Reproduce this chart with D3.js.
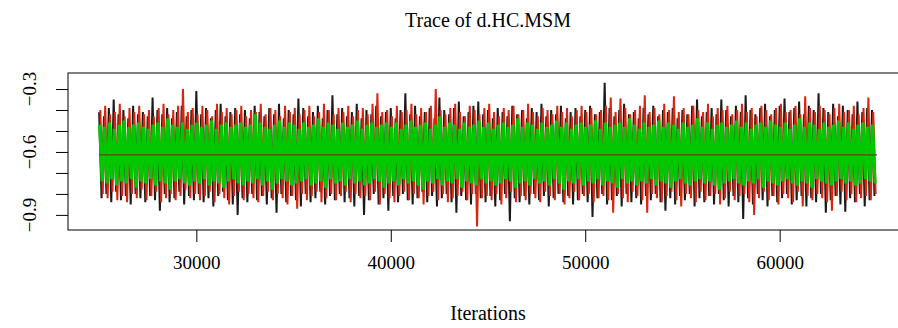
<!DOCTYPE html>
<html>
<head>
<meta charset="utf-8">
<script src="https://cdn.jsdelivr.net/npm/d3@7"></script>
<style>
  body { margin: 0; background: #fff; }
  svg { display: block; }
  text { font-family: "Liberation Serif", "DejaVu Serif", serif; fill: #000; }
</style>
</head>
<body>
<svg id="trace" width="898" height="328"></svg>
<script>
// iterations are grouped in bins of 250; for each bin the highest and lowest value of every chain
const iterStart = 25000;
const binStep = 250;

const blackHi = [-.41,-.43,-.39,-.35,-.42,-.40,-.44,-.38,-.42,-.41,
  -.43,-.34,-.40,-.42,-.39,-.44,-.41,-.38,-.43,-.40,
  -.31,-.42,-.39,-.44,-.40,-.37,-.43,-.41,-.39,-.42,
  -.40,-.44,-.38,-.41,-.43,-.39,-.42,-.37,-.44,-.40,
  -.42,-.345,-.39,-.43,-.41,-.38,-.44,-.40,-.33,-.42,
  -.39,-.43,-.41,-.37,-.44,-.40,-.42,-.38,-.43,-.41,
  -.39,-.44,-.40,-.32,-.42,-.38,-.43,-.41,-.39,-.44,
  -.34,-.40,-.42,-.39,-.36,-.43,-.41,-.38,-.36,-.42,
  -.40,-.44,-.39,-.41,-.43,-.38,-.42,-.40,-.44,-.39,
  -.41,-.37,-.43,-.40,-.42,-.38,-.44,-.41,-.39,-.43,
  -.40,-.38,-.42,-.41,-.27,-.39,-.43,-.40,-.37,-.42,
  -.41,-.44,-.39,-.42,-.38,-.43,-.40,-.41,-.39,-.44,
  -.40,-.42,-.38,-.35,-.43,-.41,-.39,-.42,-.35,-.40,
  -.43,-.38,-.41,-.33,-.40,-.42,-.39,-.37,-.43,-.40,
  -.38,-.345,-.41,-.39,-.36,-.42,-.38,-.40,-.32,-.39,
  -.41,-.37,-.43,-.38,-.40,-.42,-.36,-.41,-.39,-.40];

const blackLo = [-.82,-.80,-.84,-.79,-.83,-.81,-.85,-.80,-.82,-.84,
  -.81,-.83,-.88,-.80,-.84,-.82,-.79,-.85,-.81,-.83,
  -.80,-.84,-.82,-.86,-.81,-.79,-.83,-.85,-.90,-.82,
  -.84,-.80,-.83,-.81,-.85,-.82,-.89,-.80,-.84,-.81,
  -.83,-.86,-.80,-.84,-.82,-.79,-.85,-.81,-.83,-.80,
  -.84,-.82,-.86,-.81,-.90,-.83,-.80,-.85,-.82,-.88,
  -.81,-.84,-.80,-.83,-.85,-.82,-.79,-.84,-.81,-.86,
  -.82,-.80,-.84,-.89,-.81,-.83,-.85,-.80,-.82,-.84,
  -.81,-.86,-.83,-.80,-.93,-.82,-.84,-.81,-.85,-.80,
  -.83,-.81,-.86,-.82,-.80,-.84,-.81,-.85,-.83,-.80,
  -.84,-.91,-.82,-.80,-.85,-.83,-.81,-.86,-.80,-.84,
  -.82,-.85,-.81,-.83,-.80,-.84,-.88,-.82,-.85,-.81,
  -.83,-.80,-.86,-.82,-.84,-.81,-.85,-.80,-.83,-.86,
  -.81,-.84,-.92,-.82,-.85,-.80,-.83,-.86,-.81,-.84,
  -.82,-.80,-.85,-.83,-.81,-.86,-.82,-.84,-.80,-.89,
  -.83,-.81,-.85,-.885,-.82,-.84,-.80,-.86,-.83,-.81];

const redHi = [-.40,-.38,-.42,-.41,-.37,-.43,-.39,-.41,-.38,-.42,
  -.40,-.43,-.39,-.37,-.42,-.40,-.38,-.30,-.41,-.39,
  -.42,-.38,-.40,-.43,-.37,-.41,-.39,-.42,-.40,-.38,
  -.43,-.40,-.41,-.37,-.42,-.39,-.40,-.43,-.38,-.41,
  -.39,-.42,-.40,-.38,-.43,-.41,-.37,-.40,-.42,-.39,
  -.41,-.38,-.43,-.40,-.39,-.42,-.37,-.32,-.41,-.40,
  -.43,-.38,-.41,-.40,-.37,-.42,-.39,-.41,-.38,-.30,
  -.40,-.42,-.39,-.37,-.41,-.43,-.38,-.40,-.42,-.39,
  -.37,-.41,-.43,-.39,-.40,-.38,-.42,-.40,-.37,-.41,
  -.43,-.39,-.40,-.42,-.38,-.41,-.39,-.43,-.40,-.38,
  -.41,-.39,-.42,-.40,-.38,-.34,-.41,-.345,-.39,-.42,
  -.40,-.38,-.33,-.41,-.39,-.42,-.37,-.40,-.335,-.41,
  -.39,-.42,-.38,-.40,-.41,-.37,-.43,-.39,-.40,-.38,
  -.42,-.40,-.37,-.41,-.39,-.43,-.38,-.40,-.42,-.39,
  -.37,-.41,-.40,-.38,-.42,-.335,-.39,-.41,-.38,-.40,
  -.42,-.39,-.37,-.41,-.40,-.38,-.42,-.39,-.34,-.41];

const redLo = [-.80,-.82,-.79,-.83,-.81,-.84,-.80,-.82,-.78,-.83,
  -.81,-.79,-.84,-.82,-.80,-.83,-.81,-.78,-.82,-.80,
  -.83,-.81,-.79,-.84,-.80,-.82,-.85,-.81,-.79,-.83,
  -.80,-.82,-.84,-.81,-.79,-.83,-.80,-.82,-.85,-.81,
  -.87,-.80,-.83,-.81,-.79,-.84,-.82,-.80,-.83,-.81,
  -.79,-.84,-.80,-.82,-.81,-.83,-.79,-.85,-.80,-.82,
  -.84,-.81,-.79,-.83,-.80,-.82,-.85,-.81,-.79,-.83,
  -.80,-.84,-.82,-.81,-.79,-.83,-.80,-.955,-.82,-.81,
  -.83,-.80,-.85,-.82,-.79,-.84,-.81,-.83,-.80,-.82,
  -.84,-.79,-.81,-.83,-.80,-.85,-.82,-.79,-.83,-.81,
  -.80,-.84,-.82,-.81,-.83,-.89,-.80,-.82,-.84,-.79,
  -.81,-.83,-.89,-.80,-.82,-.84,-.81,-.79,-.83,-.86,
  -.80,-.82,-.84,-.79,-.83,-.81,-.80,-.85,-.82,-.79,
  -.83,-.81,-.80,-.84,-.90,-.82,-.79,-.83,-.81,-.85,
  -.80,-.82,-.84,-.79,-.86,-.81,-.83,-.80,-.82,-.84,
  -.88,-.81,-.79,-.83,-.80,-.84,-.82,-.81,-.83,-.80];

const greenHi = [-.47,-.48,-.46,-.49,-.47,-.45,-.48,-.47,-.46,-.48,
  -.49,-.47,-.46,-.48,-.44,-.47,-.48,-.46,-.49,-.47,
  -.46,-.48,-.47,-.45,-.49,-.47,-.46,-.48,-.47,-.46,
  -.48,-.47,-.42,-.46,-.48,-.49,-.47,-.45,-.48,-.46,
  -.47,-.49,-.46,-.48,-.47,-.44,-.48,-.46,-.47,-.49,
  -.46,-.48,-.47,-.45,-.49,-.47,-.46,-.48,-.47,-.46,
  -.48,-.46,-.49,-.47,-.45,-.48,-.47,-.46,-.49,-.47,
  -.43,-.48,-.46,-.47,-.49,-.46,-.48,-.47,-.45,-.48,
  -.46,-.49,-.47,-.46,-.48,-.47,-.44,-.48,-.46,-.47,
  -.49,-.46,-.48,-.47,-.45,-.48,-.46,-.49,-.47,-.46,
  -.48,-.47,-.45,-.49,-.46,-.48,-.47,-.46,-.48,-.44,
  -.47,-.49,-.46,-.48,-.47,-.45,-.48,-.46,-.47,-.49,
  -.46,-.48,-.47,-.44,-.48,-.46,-.49,-.47,-.46,-.48,
  -.47,-.45,-.48,-.46,-.49,-.47,-.46,-.48,-.45,-.47,
  -.48,-.46,-.49,-.47,-.44,-.48,-.46,-.47,-.49,-.46,
  -.48,-.47,-.45,-.48,-.46,-.49,-.47,-.46,-.48,-.47];

const greenLo = [-.74,-.75,-.73,-.76,-.74,-.75,-.73,-.77,-.74,-.75,
  -.73,-.76,-.74,-.75,-.78,-.74,-.73,-.75,-.76,-.74,
  -.75,-.73,-.76,-.74,-.75,-.77,-.74,-.73,-.75,-.76,
  -.74,-.75,-.73,-.76,-.74,-.78,-.75,-.73,-.74,-.76,
  -.75,-.74,-.73,-.76,-.75,-.74,-.77,-.73,-.75,-.74,
  -.76,-.73,-.75,-.74,-.76,-.75,-.73,-.74,-.77,-.75,
  -.74,-.76,-.73,-.75,-.74,-.76,-.78,-.74,-.75,-.73,
  -.76,-.74,-.75,-.73,-.77,-.74,-.75,-.76,-.73,-.75,
  -.74,-.76,-.75,-.73,-.74,-.77,-.75,-.74,-.76,-.73,
  -.75,-.74,-.76,-.73,-.75,-.78,-.74,-.75,-.73,-.76,
  -.74,-.75,-.73,-.76,-.74,-.75,-.77,-.73,-.75,-.74,
  -.76,-.74,-.75,-.73,-.76,-.74,-.75,-.77,-.74,-.73,
  -.75,-.76,-.74,-.73,-.75,-.74,-.76,-.78,-.75,-.74,
  -.73,-.75,-.76,-.74,-.75,-.73,-.77,-.74,-.75,-.76,
  -.74,-.73,-.75,-.76,-.74,-.75,-.77,-.73,-.74,-.75,
  -.76,-.74,-.73,-.75,-.74,-.76,-.75,-.73,-.74,-.75];

const chainMean = -0.614;

const xTicks = [30000, 40000, 50000, 60000];
const yTicks = [-0.9, -0.8, -0.7, -0.6, -0.5, -0.4, -0.3];
const yLabels = [-0.9, -0.6, -0.3];

const svg = d3.select("#trace");
const plot = {left: 68, right: 908, top: 73, bottom: 230};

// R style 4% padding around the data range
let x = d3.scaleLinear().domain([23400, 66600]).range([plot.left, plot.right]);
let y = d3.scaleLinear().domain([-0.972, -0.2236]).range([plot.bottom, plot.top]);

// zigzag through max then min of each bin, like a dense trace line
function tracePoints(hi, lo, shift) {
    let pts = [];
    for (let i = 0; i < hi.length; i++) {
        let it = iterStart + i * binStep + shift * binStep;
        pts.push([it, hi[i]]);
        pts.push([it + binStep / 2, lo[i]]);
    }
    return pts;
}

let line = d3.line().x(d => x(d[0])).y(d => y(d[1]));

const chains = [
    {hi: blackHi, lo: blackLo, color: "#1a1a1a", width: 2.0, shift: 0},
    {hi: redHi, lo: redLo, color: "#d8260f", width: 2.0, shift: 0.25},
    {hi: greenHi, lo: greenLo, color: "#00c800", width: 3.2, shift: 0.12}
];

svg.append("defs").append("clipPath").attr("id", "clip")
    .append("rect")
    .attr("x", plot.left).attr("y", plot.top)
    .attr("width", plot.right - plot.left).attr("height", plot.bottom - plot.top);

let g = svg.append("g").attr("clip-path", "url(#clip)");

g.selectAll("path.chain")
    .data(chains)
    .enter()
    .append("path")
    .attr("class", "chain")
    .attr("d", d => line(tracePoints(d.hi, d.lo, d.shift)))
    .attr("fill", "none")
    .attr("stroke", d => d.color)
    .attr("stroke-width", d => d.width)
    .attr("stroke-linejoin", "bevel");

g.append("line")
    .attr("x1", x(iterStart)).attr("x2", x(iterStart + blackHi.length * binStep))
    .attr("y1", y(chainMean)).attr("y2", y(chainMean))
    .attr("stroke", "#6e3c0e")
    .attr("stroke-width", 1.3);

// frame
svg.append("rect")
    .attr("x", plot.left).attr("y", plot.top)
    .attr("width", plot.right - plot.left).attr("height", plot.bottom - plot.top)
    .attr("fill", "none").attr("stroke", "#000").attr("stroke-width", 1);

let xAxis = d3.axisBottom(x).tickValues(xTicks).tickSize(12).tickPadding(14)
    .tickFormat(d3.format("d"));
let gx = svg.append("g").attr("transform", "translate(0," + plot.bottom + ")").call(xAxis);
gx.select(".domain").remove();
gx.selectAll("text").style("font-family", "Liberation Serif").style("font-size", "19px");

let yAxis = d3.axisLeft(y).tickValues(yTicks).tickSize(12).tickFormat("");
let gy = svg.append("g").attr("transform", "translate(" + plot.left + ",0)").call(yAxis);
gy.select(".domain").remove();

svg.selectAll("text.ylab")
    .data(yLabels)
    .enter()
    .append("text")
    .attr("class", "ylab")
    .attr("transform", d => "translate(36," + y(d) + ") rotate(-90)")
    .attr("text-anchor", "middle")
    .style("font-size", "19px")
    .text(d => d3.format(".1f")(d));

svg.append("text")
    .attr("x", (plot.left + plot.right) / 2).attr("y", 27)
    .attr("text-anchor", "middle")
    .style("font-size", "20px")
    .text("Trace of d.HC.MSM");

svg.append("text")
    .attr("x", (plot.left + plot.right) / 2).attr("y", 320)
    .attr("text-anchor", "middle")
    .style("font-size", "20px")
    .text("Iterations");
</script>
</body>
</html>
